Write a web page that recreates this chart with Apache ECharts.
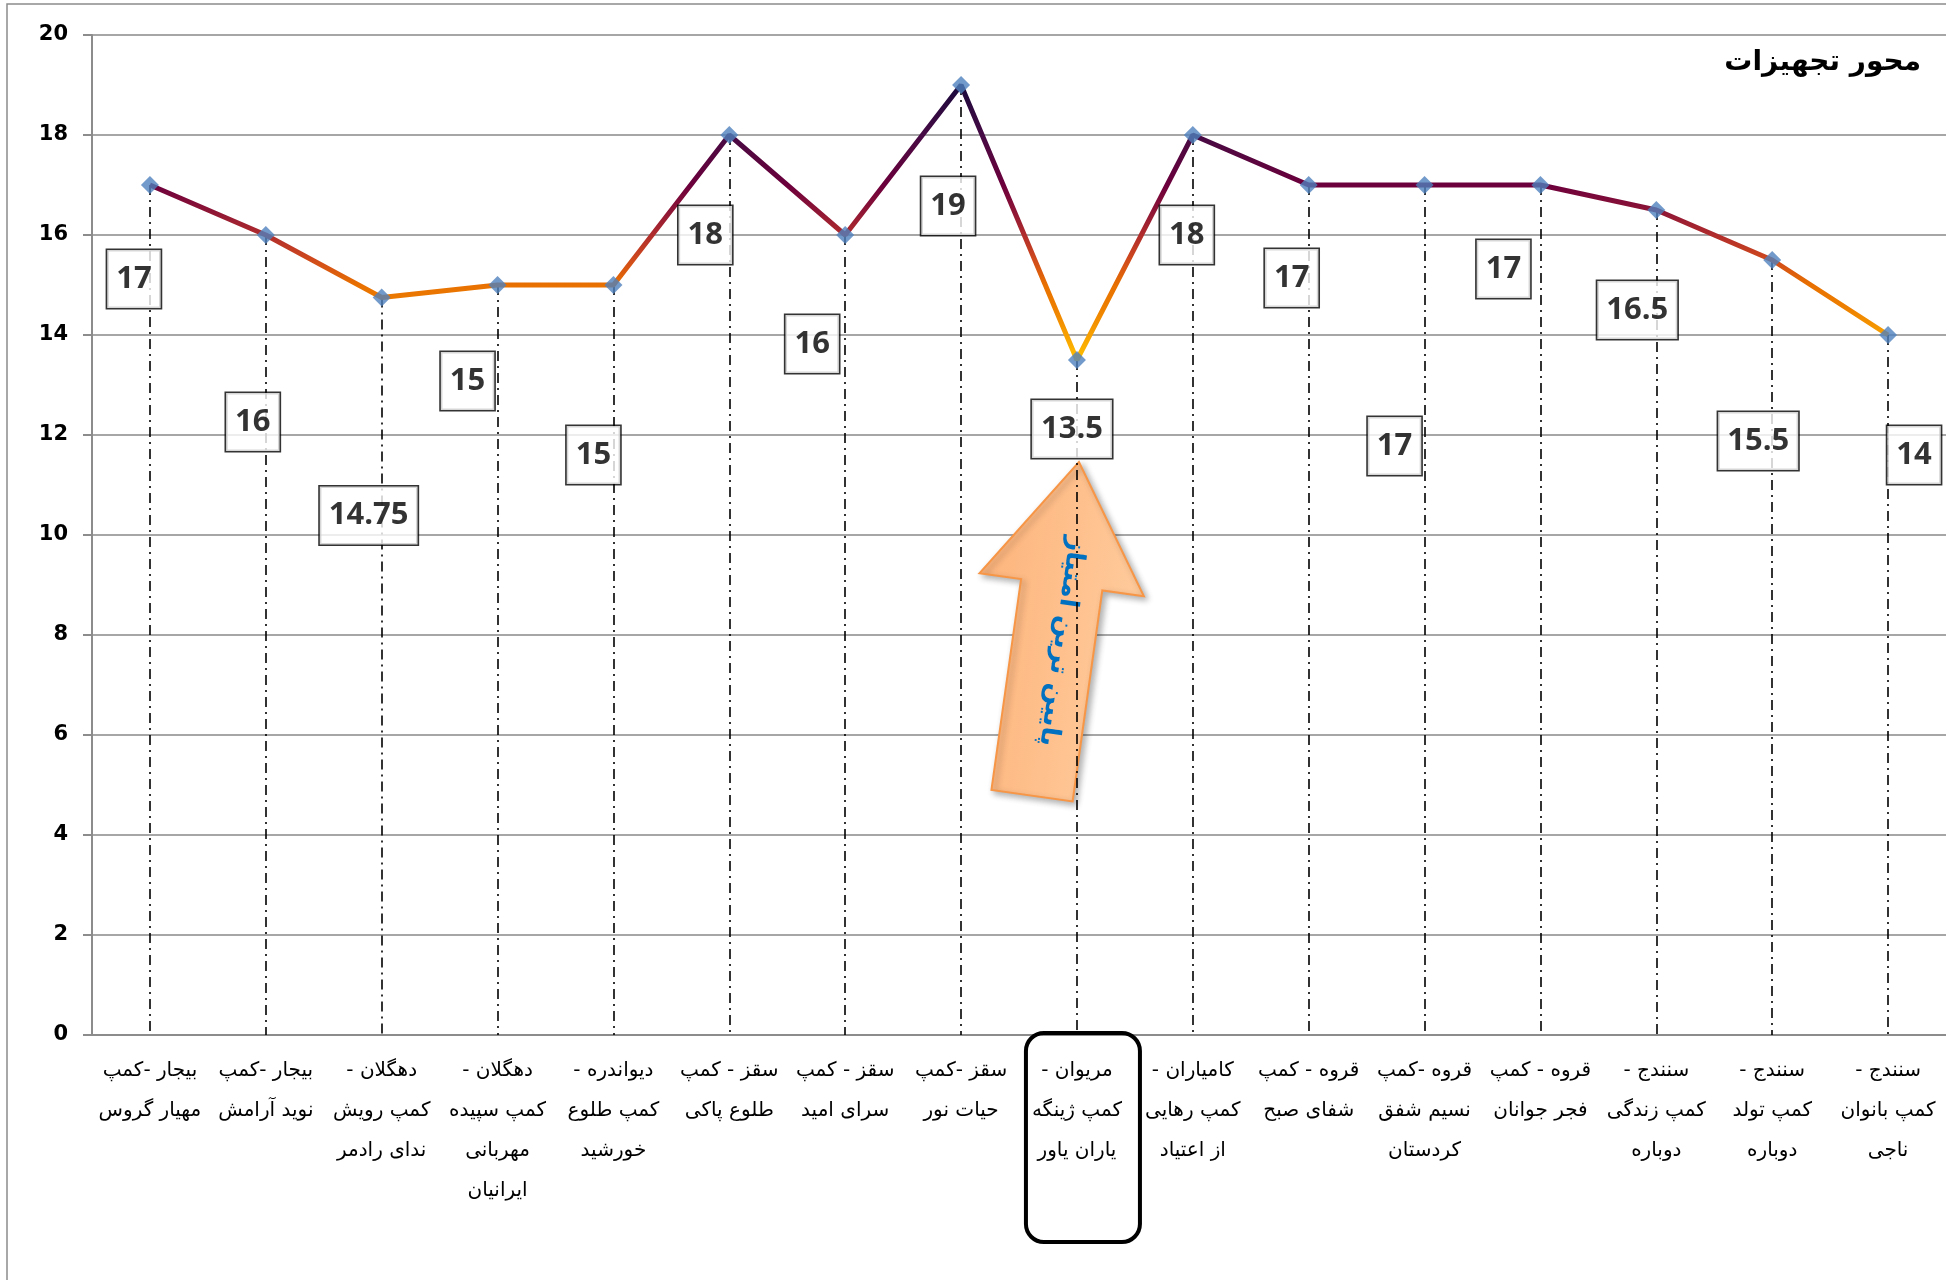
<!DOCTYPE html>
<html>
<head>
<meta charset="utf-8">
<script src="https://cdn.jsdelivr.net/npm/echarts@6/dist/echarts.min.js"></script>
<style>
html,body{margin:0;padding:0;background:#fff;}
#chart{width:1946px;height:1280px;}
</style>
</head>
<body>
<div id="chart"></div>
<script>
// ---------- data ----------
const chartTitle = 'محور تجهیزات';
const arrowText = 'پایین ترین امتیاز';
const categories = [
  ['بیجار -کمپ', 'مهیار گروس'],
  ['بیجار -کمپ', 'نوید آرامش'],
  ['دهگلان -', 'کمپ رویش', 'ندای رادمر'],
  ['دهگلان -', 'کمپ سپیده', 'مهربانی', 'ایرانیان'],
  ['دیواندره -', 'کمپ طلوع', 'خورشید'],
  ['سقز - کمپ', 'طلوع پاکی'],
  ['سقز - کمپ', 'سرای امید'],
  ['سقز -کمپ', 'حیات نور'],
  ['مریوان -', 'کمپ ژینگه', 'یاران یاور'],
  ['کامیاران -', 'کمپ رهایی', 'از اعتیاد'],
  ['قروه - کمپ', 'شفای صبح'],
  ['قروه -کمپ', 'نسیم شفق', 'کردستان'],
  ['قروه - کمپ', 'فجر جوانان'],
  ['سنندج -', 'کمپ زندگی', 'دوباره'],
  ['سنندج -', 'کمپ تولد', 'دوباره'],
  ['سنندج -', 'کمپ بانوان', 'ناجی']
];
const values = [17, 16, 14.75, 15, 15, 18, 16, 19, 13.5, 18, 17, 17, 17, 16.5, 15.5, 14];
const yTicks = { min: 0, max: 20, interval: 2 };
const lowestIndex = 8;

// ---------- styling (label box offsets, relative to each point) ----------
const labelOffsets = [
  [-16, 94], [-13, 187], [-13, 218], [-30, 96], [-20, 170], [-24, 100], [-33, 109], [-13, 121],
  [-5, 69], [-6, 100], [-17, 93], [-30, 261], [-37, 84], [-19, 100], [-14, 181], [26, 120]
];

const RLM = '\u200F';
const catNames = categories.map(lines => lines.map(l => RLM + l + RLM).join('\n'));

const chart = echarts.init(document.getElementById('chart'));

const option = {
  backgroundColor: '#ffffff',
  animation: false,
  title: {
    text: chartTitle,
    right: 20,
    top: 44,
    textStyle: { fontFamily: 'DejaVu Sans', fontWeight: 'bold', fontSize: 28, color: '#000' }
  },
  grid: { left: 92, right: 0, top: 35, bottom: 245, containLabel: false },
  visualMap: {
    show: false,
    type: 'continuous',
    seriesIndex: 0,
    dimension: 1,
    min: 13.5,
    max: 19,
    inRange: {
      color: ['#FFC000', '#F7A000', '#EE8200', '#E87000', '#D04A1C', '#B02C2C',
              '#8C1436', '#6C003C', '#5A063F', '#460A44', '#300A40', '#1A0A3C']
    }
  },
  xAxis: {
    type: 'category',
    data: catNames,
    boundaryGap: true,
    axisLine: { lineStyle: { color: '#8c8c8c', width: 2 } },
    axisTick: { show: false },
    splitLine: { show: false },
    axisLabel: {
      interval: 0,
      margin: 16,
      fontFamily: 'DejaVu Sans',
      fontSize: 20,
      lineHeight: 40,
      color: '#000'
    }
  },
  yAxis: {
    type: 'value',
    min: yTicks.min,
    max: yTicks.max,
    interval: yTicks.interval,
    axisLine: { show: true, lineStyle: { color: '#8c8c8c', width: 2 } },
    axisTick: { show: true, length: 9, lineStyle: { color: '#8c8c8c', width: 2 } },
    splitLine: { show: true, lineStyle: { color: '#a6a6a6', width: 2 } },
    axisLabel: {
      margin: 24,
      fontFamily: 'DejaVu Sans',
      fontWeight: 'bold',
      fontSize: 21,
      color: '#000'
    }
  },
  series: [
    {
      type: 'line',
      data: values,
      showSymbol: false,
      symbol: 'none',
      lineStyle: { width: 5 },
      z: 3
    },
    {
      type: 'scatter',
      data: values.map((v, i) => ({
        value: v,
        label: { offset: labelOffsets[i] }
      })),
      symbol: 'diamond',
      symbolSize: 18,
      itemStyle: { color: '#4F81BD' },
      z: 4,
      label: {
        show: true,
        position: 'inside',
        formatter: p => String(p.value),
        fontFamily: 'Open Sans',
        fontWeight: 'bold',
        fontSize: 31,
        lineHeight: 40,
        color: '#000',
        backgroundColor: '#fff',
        borderColor: '#000',
        borderWidth: 1.6,
        padding: [9, 9, 9, 9]
      },
      markLine: {
        silent: true,
        symbol: ['none', 'none'],
        label: { show: false },
        lineStyle: { color: '#000', width: 1.6, type: [10, 5, 2, 5] },
        data: values.map((v, i) => [{ coord: [i, v] }, { coord: [i, yTicks.min] }]),
        z: 2
      }
    }
  ]
};

chart.setOption(option);

// annotations placed from the chart's own scales
const px = chart.convertToPixel({ seriesIndex: 1 }, [lowestIndex, values[lowestIndex]]);
const axisY = chart.convertToPixel({ yAxisIndex: 0 }, yTicks.min);
const tipX = px[0] + 2;
const tipY = px[1] + 102;

chart.setOption({
  graphic: [
    {
      type: 'rect',
      silent: true,
      shape: { x: 7, y: 4, width: 2100, height: 2100 },
      style: { fill: 'none', stroke: '#8c8c8c', lineWidth: 1.5 },
      z: 0
    },
    {
      type: 'rect',
      silent: true,
      shape: { x: px[0] - 51, y: axisY - 2, width: 114, height: 209, r: 18 },
      style: { fill: 'none', stroke: '#000', lineWidth: 4 },
      z: 10
    },
    {
      type: 'group',
      x: tipX,
      y: tipY,
      rotation: -8 * Math.PI / 180,
      z: 20,
      children: [
        {
          type: 'polygon',
          shape: { points: [[0, 0], [83, 124], [41, 124], [41, 337], [-41, 337], [-41, 124], [-83, 124]] },
          style: {
            fill: new echarts.graphic.LinearGradient(0, 0, 1, 0, [
              { offset: 0, color: '#FDB47C' },
              { offset: 1, color: '#FFCB9C' }
            ]),
            stroke: '#F79646',
            lineWidth: 2,
            shadowBlur: 6,
            shadowColor: 'rgba(0,0,0,0.3)',
            shadowOffsetX: 3,
            shadowOffsetY: 3
          }
        },
        {
          type: 'text',
          x: 8,
          y: 180,
          rotation: -Math.PI / 2,
          style: {
            text: arrowText,
            fill: '#0070C0',
            fontFamily: 'DejaVu Sans',
            fontWeight: 'bold',
            fontSize: 26,
            align: 'center',
            verticalAlign: 'middle'
          }
        }
      ]
    }
  ]
});
</script>
</body>
</html>
